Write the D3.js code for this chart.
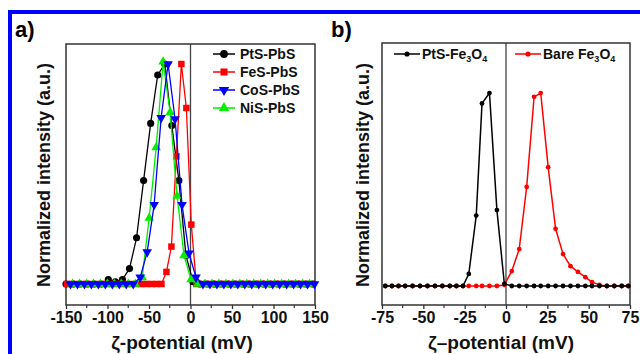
<!DOCTYPE html>
<html>
<head>
<meta charset="utf-8">
<script src="https://cdn.jsdelivr.net/npm/d3@7"></script>
<style>
  html, body { margin: 0; padding: 0; background: #fff; }
  svg { display: block; font-family: Arial, 'Liberation Sans', sans-serif; }
</style>
</head>
<body>
<svg id="chart" width="640" height="354"></svg>
<script>
// ---- panel a data: zeta potential (mV) vs normalized intensity ----
const ptsX = [-150, -141.5, -133, -124.5, -116, -107.5, -99, -90.5, -82, -73.5, -65, -56.5, -48, -39.5, -31, -22.5, -14, -5.5, 3, 11.5, 20, 28.5, 37, 45.5, 54, 62.5, 71, 79.5, 88, 96.5, 105, 113.5, 122, 130.5, 139, 147.5];
const ptsY = [0, 0, 0, 0, 0, 0, 0.02, 0.01, 0.02, 0.07, 0.21, 0.47, 0.73, 0.95, 1.0, 0.72, 0.47, 0.13, 0.01, 0, 0, 0, 0, 0, 0, 0, 0, 0, 0, 0, 0, 0, 0, 0, 0, 0];

const fesX = [-149, -143, -137, -131, -125, -119, -113, -107, -101, -95, -89, -83, -77, -71, -65, -59, -53, -47, -41, -35, -29, -23, -17, -11, -5, 1, 7, 13, 19, 25, 31, 37, 43, 49, 55, 61, 67, 73, 79, 85, 91, 97, 103, 109, 115, 121, 127, 133, 139, 145];
const fesY = [0, 0, 0, 0, 0, 0, 0, 0, 0, 0, 0, 0, 0, 0, 0, 0, 0, 0, 0, 0, 0.055, 0.17, 0.58, 1.0, 0.8, 0.27, 0, 0, 0, 0, 0, 0, 0, 0, 0, 0, 0, 0, 0, 0, 0, 0, 0, 0, 0, 0, 0, 0, 0, 0];

const cosX = [-144.6, -136.2, -127.8, -119.4, -111, -102.6, -94.2, -85.8, -77.4, -69, -60.6, -52.2, -43.8, -35.4, -27, -18.6, -10.2, -1.8, 6.6, 15, 23.4, 31.8, 40.2, 48.6, 57, 65.4, 73.8, 82.2, 90.6, 99, 107.4, 115.8, 124.2, 132.6, 141, 149.4];
const cosY = [0, 0, 0, 0, 0, 0, 0, 0, 0, 0, 0.03, 0.145, 0.36, 0.755, 1.0, 0.75, 0.36, 0.14, 0.03, 0, 0, 0, 0, 0, 0, 0, 0, 0, 0, 0, 0, 0, 0, 0, 0, 0];

const nisX = [-142.2, -133.8, -125.4, -117, -108.6, -100.2, -91.8, -83.4, -75, -66.6, -58.2, -49.8, -41.4, -33, -24.6, -16.2, -7.8, 0.6, 9, 17.4, 25.8, 34.2, 42.6, 51, 59.4, 67.8, 76.2, 84.6, 93, 101.4, 109.8, 118.2, 126.6, 135, 143.4];
const nisY = [0, 0, 0, 0, 0, 0, 0, 0, 0, 0, 0.03, 0.3, 0.62, 1.01, 0.78, 0.4, 0.13, 0.02, 0, 0, 0, 0, 0, 0, 0, 0, 0, 0, 0, 0, 0, 0, 0, 0, 0];

// ---- panel b data ----
const feX = [-73, -69, -65, -61, -56.5, -52, -47.5, -43, -38.5, -34, -30, -26, -22.5, -18, -14.5, -10, -5.5, -1, 3.5, 8, 12.5, 17, 21, 25.5, 30, 34.5, 39, 43.5, 48, 52, 56.5, 61, 65.5, 70, 74];
const ptsFeY = [0, 0, 0, 0, 0, 0, 0, 0, 0, 0, 0, 0, 0.055, 0.32, 0.83, 0.877, 0.345, 0.01, 0, 0, 0, 0, 0, 0, 0, 0, 0, 0, 0, 0, 0, 0, 0, 0, 0];
const bareFeY = [0, 0, 0, 0, 0, 0, 0, 0, 0, 0, 0, 0, 0, 0, 0, 0, 0, 0.005, 0.068, 0.168, 0.45, 0.86, 0.877, 0.54, 0.26, 0.145, 0.09, 0.064, 0.04, 0.018, 0.005, 0, 0, 0, 0];

const ticksA = [-150, -100, -50, 0, 50, 100, 150];
const minorA = [-125, -75, -25, 25, 75, 125];
const ticksB = [-75, -50, -25, 0, 25, 50, 75];
const minorB = [-62.5, -37.5, -12.5, 12.5, 37.5, 62.5];

const svg = d3.select('#chart');
const FONT = "Arial, 'Liberation Sans', sans-serif";

// blue frame around the figure (top and left edges)
svg.append('rect').attr('x', 8).attr('y', 10).attr('width', 632).attr('height', 4).attr('fill', '#0000ff');
svg.append('rect').attr('x', 8).attr('y', 10).attr('width', 4).attr('height', 344).attr('fill', '#0000ff');

function drawFrame(x, y, ticks, minor, titleX, titleText, yTitleX) {
  const [x0, x1] = x.range();
  const [y0, y1] = y.range();
  const g = svg.append('g');

  // vertical line at zero
  g.append('line')
    .attr('x1', x(0)).attr('x2', x(0))
    .attr('y1', y1).attr('y2', y0)
    .attr('stroke', '#444').attr('stroke-width', 1.3);

  // bottom axis
  const axis = d3.axisBottom(x).tickValues(ticks).tickSize(4).tickPadding(3)
    .tickFormat(d => d);
  const ax = g.append('g').attr('transform', `translate(0,${y0})`).call(axis);
  ax.select('.domain').remove();
  ax.selectAll('line').attr('stroke', '#333').attr('stroke-width', 1.3);
  ax.selectAll('text')
    .attr('fill', '#111')
    .style('font-family', FONT)
    .style('font-size', '16px')
    .style('font-weight', 'bold');

  g.selectAll('.minor').data(minor).enter().append('line')
    .attr('x1', d => x(d)).attr('x2', d => x(d))
    .attr('y1', y0).attr('y2', y0 + 3)
    .attr('stroke', '#333').attr('stroke-width', 1.2);

  // box
  g.append('rect')
    .attr('x', x0).attr('y', y1)
    .attr('width', x1 - x0).attr('height', y0 - y1)
    .attr('fill', 'none').attr('stroke', '#333').attr('stroke-width', 1.5);

  // x title
  g.append('text')
    .attr('x', titleX).attr('y', 349)
    .attr('text-anchor', 'middle')
    .style('font-family', FONT).style('font-size', '19px').style('font-weight', 'bold')
    .attr('fill', '#111')
    .text(titleText);

  // y title
  g.append('text')
    .attr('transform', `translate(${yTitleX},175) rotate(-90)`)
    .attr('text-anchor', 'middle')
    .style('font-family', FONT).style('font-size', '18px').style('font-weight', 'bold')
    .attr('fill', '#111')
    .text('Normalized intensity (a.u.)');
}

function drawSeries(x, y, xs, ys, color, symbol, size, rotate, width) {
  const pts = xs.map((v, i) => [v, ys[i]]);
  const line = d3.line().x(d => x(d[0])).y(d => y(d[1]));
  svg.append('path')
    .attr('d', line(pts))
    .attr('fill', 'none')
    .attr('stroke', color)
    .attr('stroke-width', width)
    .attr('stroke-linejoin', 'round');
  svg.append('g').selectAll('path').data(pts).enter().append('path')
    .attr('d', d3.symbol().type(symbol).size(size))
    .attr('transform', d => `translate(${x(d[0])},${y(d[1])}) rotate(${rotate})`)
    .attr('fill', color);
}

// ---------------- panel a ----------------
const xA = d3.scaleLinear().domain([-150, 150]).range([66, 315]);
const yA = d3.scaleLinear().domain([-0.0955, 1.0909]).range([305, 44]);

drawFrame(xA, yA, ticksA, minorA, 182, 'ζ-potential (mV)', 50);

const seriesA = [
  { name: 'PtS-PbS', xs: ptsX, ys: ptsY, color: '#000000', symbol: d3.symbolCircle, size: 40, rot: 0 },
  { name: 'FeS-PbS', xs: fesX, ys: fesY, color: '#ff0000', symbol: d3.symbolSquare, size: 42, rot: 0 },
  { name: 'NiS-PbS', xs: nisX, ys: nisY, color: '#00ee00', symbol: d3.symbolTriangle, size: 40, rot: 0 },
  { name: 'CoS-PbS', xs: cosX, ys: cosY, color: '#0000ff', symbol: d3.symbolTriangle, size: 40, rot: 180 }
];
seriesA.forEach(s => drawSeries(xA, yA, s.xs, s.ys, s.color, s.symbol, s.size, s.rot, 1.3));

// legend a (original order)
const legendA = ['PtS-PbS', 'FeS-PbS', 'CoS-PbS', 'NiS-PbS'].map(n => seriesA.find(s => s.name === n));
legendA.forEach((s, i) => {
  const cy = 54 + i * 18;
  svg.append('line').attr('x1', 213).attr('x2', 235).attr('y1', cy).attr('y2', cy)
    .attr('stroke', s.color).attr('stroke-width', 1.5);
  svg.append('path')
    .attr('d', d3.symbol().type(s.symbol).size(s.size + 8))
    .attr('transform', `translate(224,${cy}) rotate(${s.rot})`)
    .attr('fill', s.color);
  svg.append('text')
    .attr('x', 240).attr('y', cy + 5)
    .style('font-family', FONT).style('font-size', '14px').style('font-weight', 'bold')
    .attr('fill', '#111')
    .text(s.name);
});

// panel label a)
svg.append('text').attr('x', 15).attr('y', 37)
  .style('font-family', FONT).style('font-size', '22px').style('font-weight', 'bold')
  .text('a)');

// ---------------- panel b ----------------
const xB = d3.scaleLinear().domain([-75, 75]).range([382, 630]);
const yB = d3.scaleLinear().domain([-0.0864, 1.1045]).range([305, 43]);

drawFrame(xB, yB, ticksB, minorB, 501, 'ζ–potential (mV)', 369);

drawSeries(xB, yB, feX, bareFeY, '#ff0000', d3.symbolCircle, 18, 0, 1.5);
drawSeries(xB, yB, feX, ptsFeY, '#000000', d3.symbolCircle, 18, 0, 1.5);

// legend b
function fe3o4Label(x, cy, prefix) {
  const t = svg.append('text')
    .attr('x', x).attr('y', cy + 5)
    .style('font-family', FONT).style('font-size', '14px').style('font-weight', 'bold')
    .attr('fill', '#111');
  t.append('tspan').text(prefix + 'Fe');
  t.append('tspan').attr('dy', 3).style('font-size', '9px').text('3');
  t.append('tspan').attr('dy', -3).text('O');
  t.append('tspan').attr('dy', 3).style('font-size', '9px').text('4');
}
[
  { x1: 394, x2: 420, label: 'PtS-', tx: 422, color: '#000000' },
  { x1: 515, x2: 541, label: 'Bare ', tx: 543, color: '#ff0000' }
].forEach(l => {
  const cy = 54;
  svg.append('line').attr('x1', l.x1).attr('x2', l.x2).attr('y1', cy).attr('y2', cy)
    .attr('stroke', l.color).attr('stroke-width', 1.5);
  svg.append('circle').attr('cx', (l.x1 + l.x2) / 2).attr('cy', cy).attr('r', 2.6).attr('fill', l.color);
  fe3o4Label(l.tx, cy, l.label);
});

svg.append('text').attr('x', 331).attr('y', 37)
  .style('font-family', FONT).style('font-size', '22px').style('font-weight', 'bold')
  .text('b)');
</script>
</body>
</html>
